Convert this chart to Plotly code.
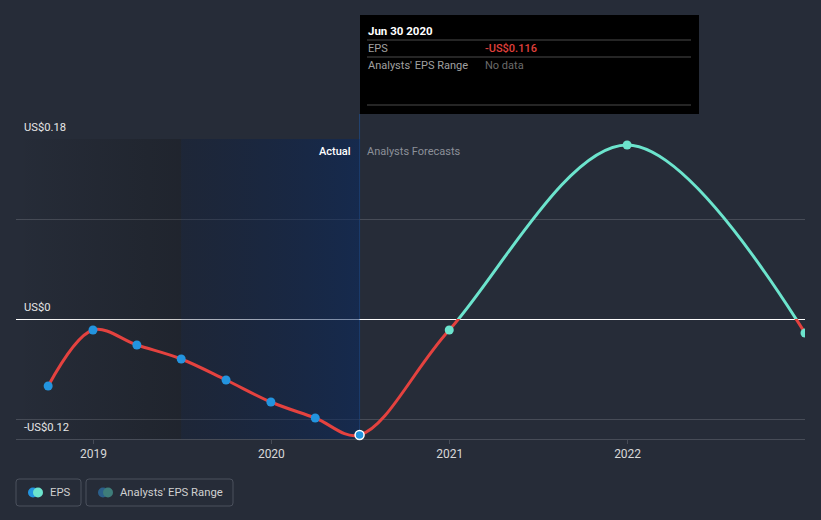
import plotly.graph_objects as go

# ---------------- data ----------------
actual_dates = ['2018-09-30', '2018-12-31', '2019-03-31', '2019-06-30',
                '2019-09-30', '2019-12-31', '2020-03-31', '2020-06-30']
actual_eps = [-0.067, -0.011, -0.026, -0.040, -0.061, -0.083, -0.099, -0.116]
forecast_dates = ['2020-12-31', '2021-12-31', '2022-12-31']
forecast_eps = [-0.011, 0.174, -0.014]

x_tick_vals = ['2019-01-01', '2020-01-01', '2021-01-01', '2022-01-01']
x_tick_text = ['2019', '2020', '2021', '2022']
y_label_vals = [0.18, 0.0, -0.12]
y_label_text = ['US$0.18', 'US$0', '-US$0.12']
y_grid_vals = [-0.1, 0.1, 0.18]

X_START, X_END = '2018-07-26', '2022-12-31'
Y_MIN, Y_MAX = -0.12, 0.18
PAST_START = '2019-06-30'
LAST_ACTUAL = actual_dates[-1]

# ---------------- styles ----------------
BG = '#262c38'
GRID = '#474c57'
RED = '#e4423f'
TEAL = '#6ce4cd'
BLUE = '#2394df'
FONT = 'Roboto'

W, H = 821, 520
L, R, T, B = 16, 805, 139, 439


def pxx(x):
    return (x - L) / (R - L)


def pxy(y):
    return (B - y) / (B - T)


all_dates = actual_dates + forecast_dates
all_eps = actual_eps + forecast_eps

fig = go.Figure()

# background shading (past regions)
fig.add_trace(go.Scatter(
    x=[X_START, PAST_START, PAST_START, X_START], y=[Y_MIN, Y_MIN, Y_MAX, Y_MAX],
    fill='toself', mode='none', hoverinfo='skip', showlegend=False,
    fillgradient=dict(type='horizontal',
                      colorscale=[[0, 'rgba(10,10,10,0.0)'], [1, 'rgba(10,10,10,0.22)']])))
fig.add_trace(go.Scatter(
    x=[PAST_START, LAST_ACTUAL, LAST_ACTUAL, PAST_START], y=[Y_MIN, Y_MIN, Y_MAX, Y_MAX],
    fill='toself', mode='none', hoverinfo='skip', showlegend=False,
    fillgradient=dict(type='horizontal',
                      colorscale=[[0, 'rgba(10,25,55,0.3)'], [1, 'rgba(8,40,95,0.55)']])))

# sign-coloured spline: red below zero (y2), teal above zero (y3)
fig.add_trace(go.Scatter(x=all_dates, y=all_eps, mode='lines', yaxis='y2',
                         line=dict(color=RED, width=3, shape='spline'),
                         hoverinfo='skip', showlegend=False))
fig.add_trace(go.Scatter(x=all_dates, y=all_eps, mode='lines', yaxis='y3',
                         line=dict(color=TEAL, width=3, shape='spline'),
                         hoverinfo='skip', showlegend=False))

# markers
fig.add_trace(go.Scatter(x=actual_dates[:-1], y=actual_eps[:-1], mode='markers', yaxis='y2',
                         marker=dict(color=BLUE, size=9), cliponaxis=False,
                         showlegend=False))
fig.add_trace(go.Scatter(x=[actual_dates[-1]], y=[actual_eps[-1]], mode='markers', yaxis='y2',
                         marker=dict(color=BLUE, size=9, line=dict(color='white', width=1.5)),
                         cliponaxis=False, showlegend=False))
neg_fc = [(d, v) for d, v in zip(forecast_dates, forecast_eps) if v < 0]
pos_fc = [(d, v) for d, v in zip(forecast_dates, forecast_eps) if v >= 0]
fig.add_trace(go.Scatter(x=[d for d, v in neg_fc], y=[v for d, v in neg_fc], mode='markers',
                         yaxis='y2', marker=dict(color=TEAL, size=9), showlegend=False))
fig.add_trace(go.Scatter(x=[d for d, v in pos_fc], y=[v for d, v in pos_fc], mode='markers',
                         yaxis='y3', marker=dict(color=TEAL, size=9), showlegend=False))

shapes = []
annotations = []

# hover vertical line (behind the data)
shapes.append(dict(type='line', xref='x', yref='paper', x0=LAST_ACTUAL, x1=LAST_ACTUAL,
                   y0=0, y1=pxy(114), layer='below', line=dict(color='#234573', width=1)))

PAD = 2  # annotation inner padding compensation

# y labels
for v, t in zip(y_label_vals, y_label_text):
    annotations.append(dict(xref='paper', yref='y', x=pxx(24 - PAD), y=v, yshift=12,
                            text=t, showarrow=False, xanchor='left', yanchor='middle',
                            font=dict(family=FONT, size=11.2, color='#e6e6e6')))

# Actual / Forecast labels
annotations.append(dict(xref='paper', yref='paper', x=pxx(351 + PAD), y=pxy(151), text='Actual',
                        showarrow=False, xanchor='right', yanchor='middle',
                        font=dict(family=FONT, size=11, color='#ffffff', weight=500)))
annotations.append(dict(xref='paper', yref='paper', x=pxx(367 - PAD), y=pxy(151),
                        text='Analysts Forecasts', showarrow=False, xanchor='left',
                        yanchor='middle', font=dict(family=FONT, size=11, color='#8c9099')))

# tooltip box
shapes.append(dict(type='rect', xref='paper', yref='paper', x0=pxx(360), x1=pxx(699),
                   y0=pxy(114), y1=pxy(15), fillcolor='#000000', line=dict(width=0)))
for yy in (40, 57, 105):
    shapes.append(dict(type='line', xref='paper', yref='paper', x0=pxx(367), x1=pxx(691),
                       y0=pxy(yy), y1=pxy(yy), line=dict(color='#4a4a4a', width=1)))
d = LAST_ACTUAL
months = ['Jan', 'Feb', 'Mar', 'Apr', 'May', 'Jun', 'Jul', 'Aug', 'Sep', 'Oct', 'Nov', 'Dec']
tip_date = f"{months[int(d[5:7]) - 1]} {int(d[8:10])} {d[:4]}"
tip_val = ('-' if actual_eps[-1] < 0 else '') + f"US${abs(actual_eps[-1]):.3f}"
tip_items = [
    (368, 31, tip_date, '#ffffff', 11.5, 700),
    (368, 48, 'EPS', '#a0a0a0', 11, 400),
    (485, 48, tip_val, '#e0403c', 11, 500),
    (368, 65, "Analysts' EPS Range", '#a0a0a0', 11, 400),
    (485, 65, 'No data', '#6b6b6b', 11, 400),
]
for x, y, t, c, s, wgt in tip_items:
    annotations.append(dict(xref='paper', yref='paper', x=pxx(x - PAD), y=pxy(y), text=t,
                            showarrow=False, xanchor='left', yanchor='middle',
                            font=dict(family=FONT, size=s, color=c, weight=wgt)))


# custom legend
def rrect(x0, y0, x1, y1, r):
    X0, X1 = pxx(x0), pxx(x1)
    Y0, Y1 = pxy(y1), pxy(y0)
    rx = r / (R - L)
    ry = r / (B - T)
    return (f"M{X0 + rx},{Y0} L{X1 - rx},{Y0} Q{X1},{Y0} {X1},{Y0 + ry} "
            f"L{X1},{Y1 - ry} Q{X1},{Y1} {X1 - rx},{Y1} L{X0 + rx},{Y1} "
            f"Q{X0},{Y1} {X0},{Y1 - ry} L{X0},{Y0 + ry} Q{X0},{Y0} {X0 + rx},{Y0} Z")


for (x0, x1) in ((16, 81), (86, 233)):
    shapes.append(dict(type='path', xref='paper', yref='paper', path=rrect(x0, 479, x1, 506, 3),
                       line=dict(color='#4a505c', width=1), fillcolor='rgba(0,0,0,0)'))


def dot(cx, cy, color, rad=5):
    return dict(type='circle', xref='paper', yref='paper', xsizemode='pixel', ysizemode='pixel',
                xanchor=pxx(cx), yanchor=pxy(cy), x0=-rad, x1=rad, y0=-rad, y1=rad,
                fillcolor=color, line=dict(width=0))


shapes += [dot(33, 492.5, BLUE), dot(38, 492.5, TEAL),
           dot(103, 492.5, '#2b5f8a'), dot(108, 492.5, '#3e7d7a')]
annotations.append(dict(xref='paper', yref='paper', x=pxx(50 - PAD), y=pxy(492.5), text='EPS',
                        showarrow=False, xanchor='left', yanchor='middle',
                        font=dict(family=FONT, size=11.3, color='#d0d0d0')))
annotations.append(dict(xref='paper', yref='paper', x=pxx(120 - PAD), y=pxy(492.5),
                        text="Analysts' EPS Range", showarrow=False, xanchor='left',
                        yanchor='middle', font=dict(family=FONT, size=11.3, color='#d0d0d0')))

fig.update_layout(
    width=W, height=H, autosize=False,
    margin=dict(l=L, r=W - R, t=T, b=H - B, pad=0),
    paper_bgcolor=BG, plot_bgcolor='rgba(0,0,0,0)',
    showlegend=False, hovermode=False,
    font=dict(family=FONT, color='#d8d8d8'),
    xaxis=dict(type='date', range=[X_START, X_END], domain=[0, 1], anchor='y',
               showgrid=False, zeroline=False, showline=True, linecolor=GRID, linewidth=1,
               ticks='outside', ticklen=4, tickcolor=GRID, tickvals=x_tick_vals,
               ticktext=x_tick_text, tickfont=dict(family=FONT, size=12, color='#d8d8d8')),
    yaxis=dict(range=[Y_MIN, Y_MAX], domain=[0, 1], tickvals=y_grid_vals, showticklabels=False,
               showgrid=True, gridcolor=GRID, gridwidth=1, zeroline=True,
               zerolinecolor='#ffffff', zerolinewidth=1, ticks=''),
    yaxis2=dict(range=[Y_MIN, 0], domain=[0, 0.4], anchor='x', visible=False),
    yaxis3=dict(range=[0, Y_MAX], domain=[0.4, 1], anchor='x', visible=False),
    shapes=shapes, annotations=annotations,
)

fig.write_html('out.html', config={'displayModeBar': False})

# remove the default body margin so the chart sits at the window origin
with open('out.html', encoding='utf-8') as f:
    html = f.read()
html = html.replace('<head>', '<head><style>html,body{margin:0;padding:0;background:%s;}</style>' % BG, 1)
with open('out.html', 'w', encoding='utf-8') as f:
    f.write(html)
